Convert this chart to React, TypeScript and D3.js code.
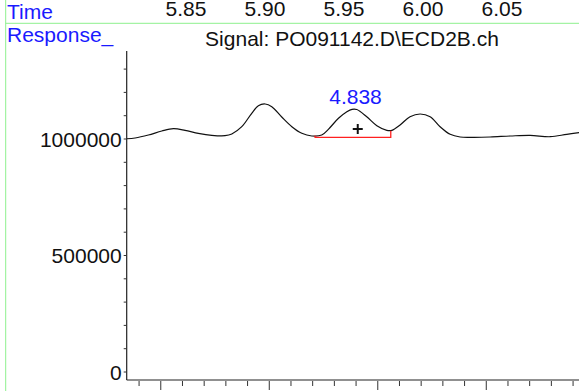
import React from "react";
import * as d3 from "d3";

const W = 579;
const H = 391;

// Chromatogram trace: time (min) and response
const times = [
  5.8125, 5.8178, 5.8262, 5.8347, 5.842, 5.8494, 5.8578, 5.8663, 5.8747, 5.879,
  5.8853, 5.8916, 5.8958, 5.9001, 5.9043, 5.9106, 5.917, 5.9233, 5.9296, 5.9359,
  5.9401, 5.9465, 5.9518, 5.9551, 5.9581, 5.9644, 5.9708, 5.9771, 5.9803, 5.9855,
  5.9918, 5.9982, 6.0045, 6.0108, 6.0172, 6.0235, 6.0319, 6.0425, 6.0551, 6.0678,
  6.0805, 6.091, 6.0988,
];
const responses = [
  1001000, 1004300, 1017000, 1034300, 1044200, 1037300, 1024400, 1015800, 1014100, 1021500,
  1052800, 1110300, 1142900, 1150200, 1138600, 1094400, 1052800, 1024400, 1012900, 1017100,
  1041600, 1088800, 1117100, 1127500, 1126600, 1095700, 1057100, 1037300, 1037300, 1060100,
  1095700, 1107300, 1095700, 1052800, 1020200, 1008600, 1007300, 1008600, 1012900, 1015800,
  1009800, 1020200, 1027000,
];

const topTickLabels = ["5.85", "5.90", "5.95", "6.00", "6.05"];
const yLabelTicks = [0, 500000, 1000000];
const yMinorTicks = d3.range(0, 1400000, 100000);

// Integrated peak
const peakLabel = "4.838";
const peakTime = 5.9573;
const peakMarkTime = 5.9587;
const peakMarkResp = 1042900;
const baseStart = 5.9317;
const baseEnd = 5.9796;
const baseResp = 1007300;
const baseStartCurve = 1015000;
const baseEndCurve = 1035000;

const title = "Signal: PO091142.D\\ECD2B.ch";

// bottom axis ticks (unlabelled)
const bottomTicks = d3.range(0, 21).map((i) => 5.8203 + i * 0.013734);

const FONT = "'Liberation Sans', Arial, Helvetica, sans-serif";
const FS = 21;

export default function App() {
  const x = d3.scaleLinear().domain([5.85, 6.05]).range([186, 502]);
  const y = d3.scaleLinear().domain([0, 1000000]).range([372, 139]);

  const axisX = 126.7;
  const axisBottom = 380;
  const axisTop = 51;

  const data = times.map((t, i) => [t, responses[i]] as [number, number]);
  const line = d3
    .line<[number, number]>()
    .x((d) => x(d[0]))
    .y((d) => y(d[1]))
    .curve(d3.curveCatmullRom.alpha(0.5));

  const blue = "#1a1aff";
  const green = "#8ef08e";

  return (
    <svg
      width={W}
      height={H}
      style={{ position: "absolute", left: 0, top: 0, background: "#fff" }}
      fontFamily={FONT}
    >
      <rect width={W} height={H} fill="#fff" />
      {/* green frame lines */}
      <line x1={5.7} x2={5.7} y1={0} y2={H} stroke={green} strokeWidth={1} />
      <line x1={5.7} x2={W} y1={23.3} y2={23.3} stroke={green} strokeWidth={1} />

      <text x={7} y={18.5} fontSize={FS} fill={blue}>Time</text>
      <text x={7} y={41.5} fontSize={FS} fill={blue}>Response_</text>

      {topTickLabels.map((l) => (
        <text key={l} x={x(+l)} y={16} fontSize={FS} textAnchor="middle" fill="#111">
          {l}
        </text>
      ))}

      <text x={352} y={46} fontSize={FS} textAnchor="middle" fill="#111">
        {title}
      </text>

      {/* axes */}
      <line x1={axisX} x2={axisX} y1={axisTop} y2={axisBottom} stroke="#222" strokeWidth={1.2} />
      <line x1={axisX} x2={W} y1={axisBottom} y2={axisBottom} stroke="#222" strokeWidth={1.2} />

      {yMinorTicks.map((v) => (
        <line key={v} x1={axisX - 3} x2={axisX} y1={y(v)} y2={y(v)} stroke="#333" strokeWidth={1} />
      ))}
      {yLabelTicks.map((v) => (
        <text
          key={v}
          x={axisX - 5}
          y={y(v)}
          dy="0.36em"
          fontSize={FS}
          textAnchor="end"
          fill="#111"
        >
          {v}
        </text>
      ))}

      {bottomTicks.map((t, i) => {
        const major = i % 5 === 1;
        return (
          <line
            key={i}
            x1={x(t)}
            x2={x(t)}
            y1={axisBottom + 1}
            y2={axisBottom + (major ? 10 : 6)}
            stroke="#333"
            strokeWidth={1}
          />
        );
      })}

      <defs>
        <clipPath id="plot">
          <rect x={axisX} y={axisTop} width={W - axisX} height={axisBottom - axisTop} />
        </clipPath>
      </defs>
      <path d={line(data) || ""} fill="none" stroke="#111" strokeWidth={1.2} clipPath="url(#plot)" />

      {/* peak baseline */}
      <path
        d={`M${x(baseStart)},${y(baseStartCurve)}L${x(baseStart)},${y(baseResp)}L${x(baseEnd)},${y(baseResp)}L${x(baseEnd)},${y(baseEndCurve)}`}
        fill="none"
        stroke="#ff2020"
        strokeWidth={1.3}
      />
      {/* apex marker */}
      <g stroke="#111" strokeWidth={2}>
        <line x1={x(peakMarkTime) - 5} x2={x(peakMarkTime) + 5} y1={y(peakMarkResp)} y2={y(peakMarkResp)} />
        <line x1={x(peakMarkTime)} x2={x(peakMarkTime)} y1={y(peakMarkResp) - 5} y2={y(peakMarkResp) + 5} />
      </g>
      <text x={x(peakTime)} y={104} fontSize={FS} textAnchor="middle" fill={blue}>
        {peakLabel}
      </text>
    </svg>
  );
}
